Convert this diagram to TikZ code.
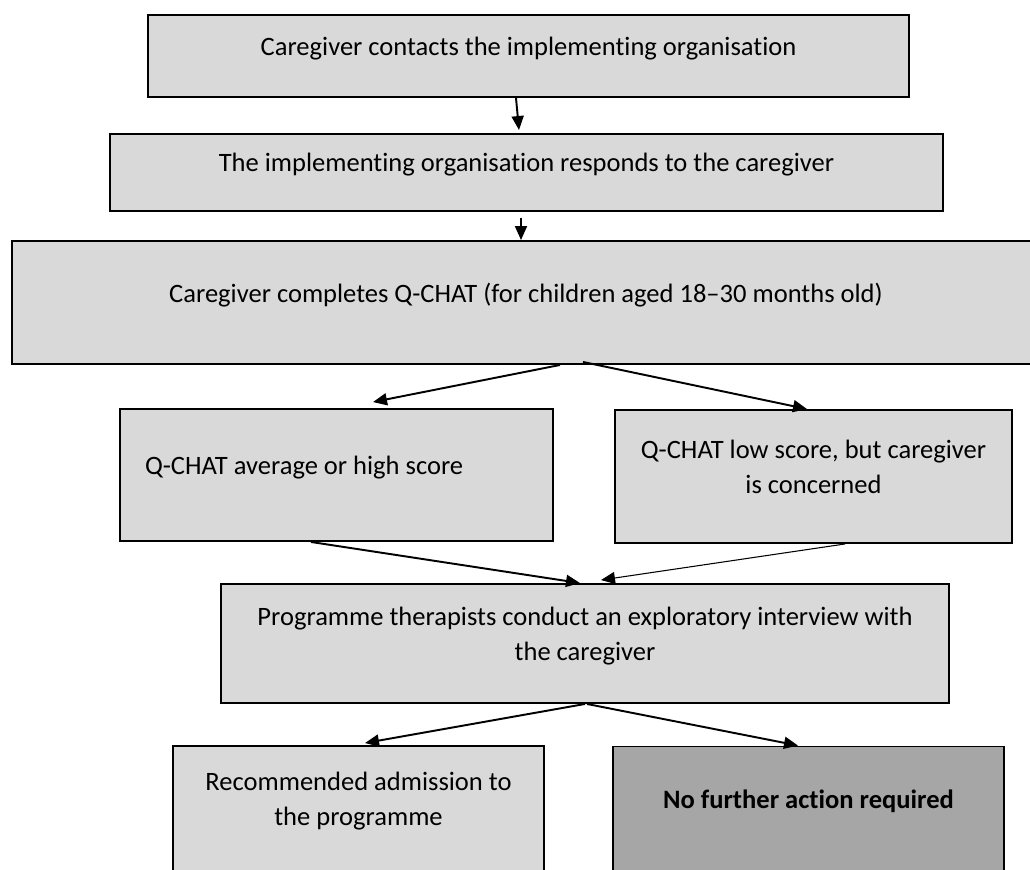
\documentclass[tikz,border=0pt]{standalone}
\usepackage{fontspec}
\setmainfont{Carlito}[Ligatures=NoCommon]
\usetikzlibrary{arrows.meta}
\definecolor{boxgray}{HTML}{D9D9D9}
\definecolor{endgray}{HTML}{A6A6A6}
\begin{document}
\begin{tikzpicture}
\path[use as bounding box] (0,0) rectangle (20.6,-17.4);
\clip (0,0) rectangle (20.6,-17.4);

\tikzstyle{every node}+=[draw,fill=boxgray,line width=1.1pt,inner sep=0pt,align=center,font=\fontsize{15.1}{19.9}\selectfont,execute at end node={\rule[-0.4cm]{0pt}{0pt}}]
\tikzstyle{every path}+=[line width=1.1pt]
\tikzstyle{flow}=[-{Triangle[length=0.28cm,width=0.24cm]}]

\node[minimum width=15.22cm,minimum height=1.64cm] (contact) at (10.57,-1.12) {Caregiver contacts the implementing organisation};
\node[minimum width=16.66cm,minimum height=1.54cm,node distance=2.33cm,below of=contact,xshift=-0.04cm] (respond) {The implementing organisation responds to the caregiver};
\node[minimum width=20.56cm,minimum height=2.46cm,node distance=2.60cm,below of=respond,xshift=-0.01cm] (qchat) {Caregiver completes Q-CHAT (for children aged 18--30 months old)};
\node[minimum width=8.66cm,minimum height=2.64cm,text width=7.66cm,inner xsep=0.5cm,align=flush left,node distance=3.45cm,below of=qchat,xshift=-3.79cm] (avg) {Q-CHAT average or high score};
\node[minimum width=7.94cm,minimum height=2.66cm,node distance=9.54cm,right of=avg,yshift=-0.03cm] (low) {Q-CHAT low score, but caregiver\\is concerned};
\node[minimum width=14.56cm,minimum height=2.38cm,node distance=3.37cm,below of=avg,xshift=4.97cm] (interview) {Programme therapists conduct an exploratory interview with\\the caregiver};
\node[minimum width=7.42cm,minimum height=2.52cm,node distance=3.31cm,below of=interview,xshift=-4.53cm] (admit) {Recommended admission to\\the programme};
\node[minimum width=7.82cm,minimum height=2.50cm,fill=endgray,node distance=9.00cm,right of=admit] (noaction) {\textbf{No further action required}};

\draw[flow] ([xshift=-0.25cm]contact.south) -- ([xshift=-0.15cm,yshift=0.06cm]respond.north);
\draw[flow] ([xshift=-0.11cm,yshift=-0.12cm]respond.south) -- ([xshift=-0.10cm]qchat.north);
\draw[flow] ([xshift=0.68cm]qchat.south) -- ([xshift=0.73cm,yshift=0.12cm]avg.north);
\draw[flow] ([xshift=1.14cm,yshift=0.06cm]qchat.south) -- ([xshift=-0.13cm]low.north);
\draw[flow] ([xshift=-0.51cm]avg.south) -- ([xshift=-0.10cm]interview.north);
\draw[flow,line width=0.6pt] ([xshift=0.63cm]low.south) -- ([xshift=0.32cm,yshift=0.06cm]interview.north);
\draw[flow] (interview.south) -- ([xshift=0.13cm,yshift=0.04cm]admit.north);
\draw[flow] ([xshift=0.04cm]interview.south) -- ([xshift=-0.21cm]noaction.north);
\end{tikzpicture}
\end{document}
